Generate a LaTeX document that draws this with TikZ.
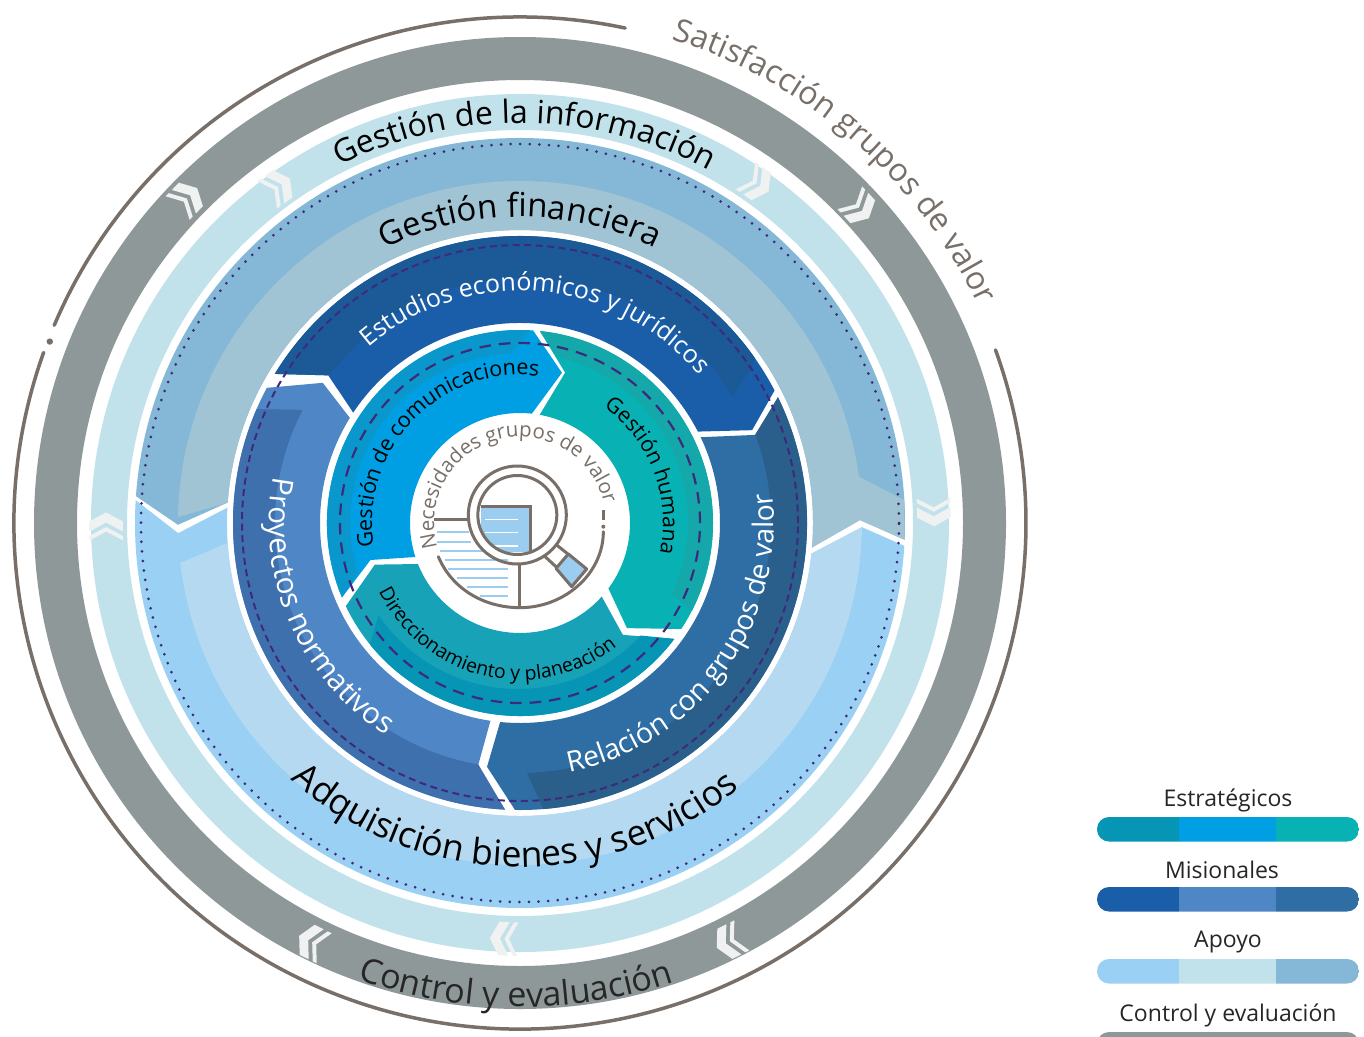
\documentclass[tikz,border=0pt]{standalone}
\usepackage{fontspec}
\setmainfont{Open Sans}
\usetikzlibrary{decorations.text}
\definecolor{cgrey}{HTML}{8F9899}
\definecolor{clight}{HTML}{C2E2EB}
\definecolor{cfinO}{HTML}{85B8D6}
\definecolor{cfinI}{HTML}{A0C4D4}
\definecolor{cadqO}{HTML}{9AD0F3}
\definecolor{cadqI}{HTML}{B5D9F0}
\definecolor{cestM}{HTML}{1A5EA9}
\definecolor{cestD}{HTML}{1B5A97}
\definecolor{cproM}{HTML}{4F86C6}
\definecolor{cproD}{HTML}{3F70AE}
\definecolor{crelM}{HTML}{2F6EA5}
\definecolor{crelD}{HTML}{2A5F8C}
\definecolor{ccomM}{HTML}{009FE3}
\definecolor{ccomD}{HTML}{0A97CB}
\definecolor{chumM}{HTML}{08B1B3}
\definecolor{chumD}{HTML}{14A8AA}
\definecolor{cdirM}{HTML}{17A2B8}
\definecolor{cdirD}{HTML}{0695B5}
\definecolor{cpurple}{HTML}{3F2A7A}
\definecolor{cbrown}{HTML}{776F68}
\definecolor{cchev}{HTML}{F0F1F1}
\definecolor{cicon}{HTML}{9ACDEF}
\tikzset{
  dashouter/.style={cpurple,line width=2pt,dash pattern=on 7pt off 4.5pt},
  dashinner/.style={cpurple,line width=2.2pt,dash pattern=on 11.5pt off 8pt},
  dotring/.style={cpurple,line width=3pt,line cap=round,dash pattern=on 0pt off 9.6pt},
  brownline/.style={cbrown,line width=3.5pt,line cap=round},
  iconline/.style={cbrown,line width=3pt},
  icontick/.style={cicon,line width=1.7pt},
  legendlabel/.style={font=\fontsize{23}{23}\selectfont,text=black!85}
}
\newcommand{\ring}[3]{\fill[#1,even odd rule] (0,0) circle[radius=#2pt] (0,0) circle[radius=#3pt];}
\newcommand{\arctext}[6]{\path[decorate,decoration={text along path,text align=center,text={|\fontsize{#4}{#4}\selectfont\color{#5}|#6}}] (#2:#1) arc[start angle=#2,end angle=#3,radius=#1];}
\newcommand{\chevat}[2]{\begin{scope}[shift={(#1:#2)},rotate=#1-90,scale=1.12]
  \fill[cchev] (12,0)--(4,15)--(-5,15)--(3,0)--(-5,-15)--(4,-15)--cycle;
  \fill[cchev] (-1,0)--(-9,15)--(-13,15)--(-5,0)--(-13,-15)--(-9,-15)--cycle;
\end{scope}}
\newcommand{\legendbar}[4]{\begin{scope}
  \clip[rounded corners=12pt] (1097,-#1) rectangle (1359,-#1-24.5);
  \fill[#2] (1097,-#1) rectangle (1179,-#1-24.5);
  \fill[#3] (1179,-#1) rectangle (1276,-#1-24.5);
  \fill[#4] (1276,-#1) rectangle (1359,-#1-24.5);
\end{scope}}
\begin{document}
\begin{tikzpicture}[x=1pt,y=1pt]
\useasboundingbox (0,0) rectangle (1364,-1036);
\fill[white] (0,0) rectangle (1364,-1036);
\begin{scope}[shift={(520,-523)}]
  % outer brown line
  \draw[brownline] (78:506) arc[start angle=78,end angle=157,radius=506];
  \draw[brownline] (160.3:506) arc[start angle=160.3,end angle=380,radius=506];
  \fill[cbrown] (158.9:504) circle[radius=3.2pt];
  \arctext{507}{89}{9}{32}{cbrown}{Satisfacción grupos de valor}
  % rings
  \ring{cgrey}{486}{443}
  \ring{clight}{429}{393}
  \chevat{135.6}{465}\chevat{42.8}{463}\chevat{243.5}{468}\chevat{-63.5}{468}
  \chevat{125.6}{414}\chevat{55}{414}\chevat{180.4}{414}\chevat{1.4}{414}\chevat{-92.3}{416}
  % Apoyo
  \fill[cfinO] (176:385) arc[start angle=176,end angle=-2.5,radius=385] -- (0.5:340) -- (-4.8:293) arc[start angle=-4.8,end angle=176,radius=293] -- (180.3:342) -- cycle;
  \fill[cfinI] (179:342) arc[start angle=179,end angle=7.8,radius=342] -- (3.4:385) -- (-2.5:385) -- (0.5:340) -- (-4.8:293) arc[start angle=-4.8,end angle=176,radius=293] -- cycle;
  \fill[cadqO] (-3.4:385) arc[start angle=-3.4,end angle=-183.4,radius=385] -- (-178.3:342) -- (-183:293) arc[start angle=-183,end angle=-6,radius=293] -- (-0.7:342) -- cycle;
  \fill[cadqI] (-0.7:342) arc[start angle=-0.7,end angle=-173.3,radius=342] -- (-176.1:293) arc[start angle=-176.1,end angle=-6,radius=293] -- cycle;
  \draw[dotring] (0,0) circle[radius=379pt];
  % Misionales
  \fill[cestM] (148.7:287) arc[start angle=148.7,end angle=27.5,radius=287] -- (21.8:250) -- (27.2:200) arc[start angle=27.2,end angle=146.5,radius=200] -- (142.4:242) -- cycle;
  \fill[cestD] (148.7:287) arc[start angle=148.7,end angle=35,radius=287] -- (33.6:276) -- (30.6:247) arc[start angle=30.6,end angle=132,radius=243] -- (142.4:242) -- cycle;
  \fill[crelM] (26:287) arc[start angle=26,end angle=-91,radius=287] -- (-97.7:246) -- (-95.7:200) arc[start angle=-95.7,end angle=25.4,radius=200] -- (20.4:253) -- cycle;
  \fill[crelD] (26:287) arc[start angle=26,end angle=-85.3,radius=287] -- (-88.4:250) arc[start angle=-88.4,end angle=20.4,radius=251] -- cycle;
  \fill[cproM] (-93:287) arc[start angle=-93,end angle=-208.1,radius=287] -- (144.6:242) -- (148.3:200) arc[start angle=148.3,end angle=261.5,radius=200] -- (-99.8:246) -- cycle;
  \fill[cproD] (-93:287) arc[start angle=-93,end angle=-203.4,radius=287] -- (152.5:245) arc[start angle=152.5,end angle=260.2,radius=245] -- cycle;
  \draw[dashouter] (0,0) circle[radius=278pt];
  % Estrategicos
  \fill[ccomM] (202.7:193) arc[start angle=202.7,end angle=86.1,radius=193] -- (74.4:156) -- (83.8:110) arc[start angle=83.8,end angle=198,radius=110] -- (193.9:154) -- cycle;
  \fill[ccomD] (202.7:193) arc[start angle=202.7,end angle=87,radius=193] -- (93:170) arc[start angle=93,end angle=197,radius=170] -- cycle;
  \fill[chumM] (84.1:193) arc[start angle=84.1,end angle=-33.3,radius=193] -- (-44.5:150) -- (-36.5:110) arc[start angle=-36.5,end angle=79.7,radius=110] -- (73.3:157) -- cycle;
  \fill[chumD] (84.1:193) arc[start angle=84.1,end angle=-27,radius=193] -- (-25:168) arc[start angle=-25,end angle=77,radius=170] -- cycle;
  \fill[cdirM] (-154.5:193) arc[start angle=-154.5,end angle=-36.9,radius=193] -- (-47.4:152) -- (-42:110) arc[start angle=-42,end angle=-158.1,radius=110] -- (-164:151) -- cycle;
  \fill[cdirD] (219:193) arc[start angle=219,end angle=323.1,radius=193] -- (317:165) arc[start angle=317,end angle=214,radius=168] -- cycle;
  \draw[dashinner] (0,0) circle[radius=180pt];
  % texts
  \arctext{400}{134.3}{44.3}{32}{black}{Gestión de la información}
  \arctext{306}{135}{45}{33}{black}{Gestión financiera}
  \arctext{232}{147.7}{22.7}{25}{white}{Estudios económicos y jurídicos}
  \arctext{148}{210}{62}{21.5}{black}{Gestión de comunicaciones}
  \arctext{143}{70}{-28}{21.5}{black}{Gestión humana}
  \arctext{157}{190}{324}{19.5}{black}{Direccionamiento y planeación}
  \arctext{86}{206}{3}{20.5}{cbrown}{Necesidades grupos de valor}
  \arctext{254}{-90}{18}{28.3}{white}{Relación con grupos de valor}
  \arctext{251}{155}{252}{29.5}{white}{Proyectos normativos}
  \arctext{344}{214}{324}{35.5}{black}{Adquisición bienes y servicios}
  \arctext{484}{239.5}{299.5}{34}{black!85}{Control y evaluación}
\end{scope}
% centre icon, in the coordinates of the zoomed crop
\begin{scope}[shift={(330,-330)},x=0.33333pt,y=-0.33333pt]
  \begin{scope}
    \clip (562,555) circle[radius=39pt];
    \fill[cicon] (452,528) rectangle (600,665);
    \draw[white,line width=1.6pt] (465,568)--(565,568) (465,608)--(565,608) (465,648)--(565,648);
    \draw[iconline] (452,528)--(600,528)--(600,665);
  \end{scope}
  \draw[iconline] (312,568)--(417,568);
  \draw[icontick] (320,607)--(417,607) (320,635)--(422,635) (330,662)--(460,662) (345,690)--(535,690) (355,716)--(535,716) (380,744)--(535,744) (410,770)--(535,770) (450,798)--(535,798);
  \draw[iconline] (568,705)--(568,830);
  \draw[iconline,line cap=round] (325,680) .. controls (365,775) and (460,833) .. (570,833) .. controls (705,833) and (820,730) .. (820,605);
  \draw[iconline] (820,540)--(820,570);
  \fill[cbrown] (820,590) circle[radius=2pt];
  \draw[iconline] (562,555) circle[radius=49pt];
  \draw[iconline] (562,555) circle[radius=39.5pt];
  \draw[iconline] (680,645)--(720,677) (640,675)--(680,712);
  \draw[iconline,fill=cicon,line join=round] (715,672)--(770,717)--(725,770)--(678,715)--cycle;
\end{scope}
% legend
\node[legendlabel] (l1) at (1228,-800) {Estratégicos};
\legendbar{817}{cdirD}{ccomM}{chumM}
\node[legendlabel] (l2) at (1222,-870) {Misionales};
\legendbar{887}{cestM}{cproM}{crelM}
\node[legendlabel] (l3) at (1228,-942) {Apoyo};
\legendbar{959}{cadqO}{clight}{cfinO}
\node[legendlabel] (l4) at (1228,-1015) {Control y evaluación};
\legendbar{1032}{cgrey}{cgrey}{cgrey}
\end{tikzpicture}
\end{document}
